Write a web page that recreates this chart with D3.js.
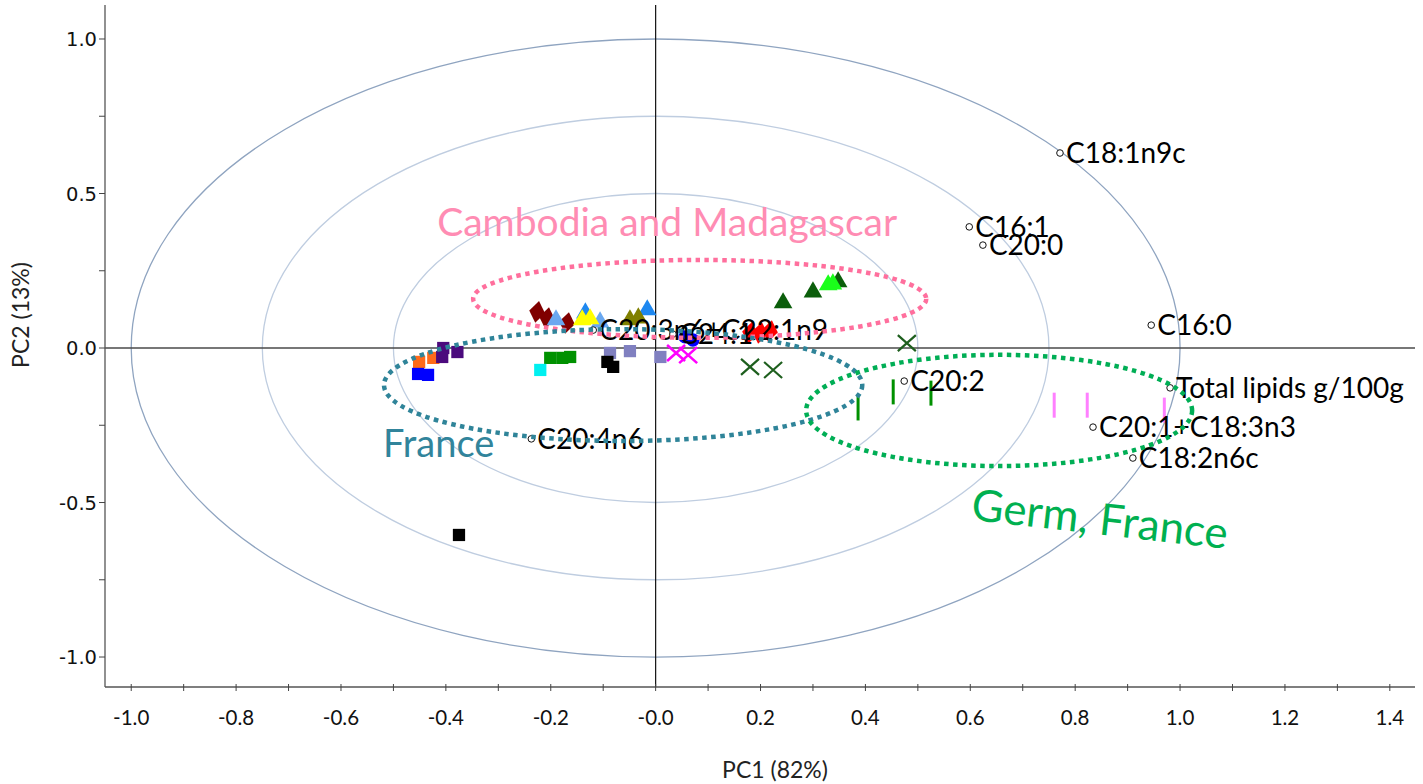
<!DOCTYPE html>
<html><head><meta charset="utf-8">
<script src="https://cdn.jsdelivr.net/npm/d3@7"></script>
<style>body{margin:0;background:#fff} svg{display:block}</style>
</head><body>
<svg id="chart" width="1423" height="784"></svg>
<script>
// ---------- DATA ----------
const xDomain = [-1.05, 1.448];
const yDomain = [-1.097, 1.11];
const xMinorTicks = [-1.0,-0.9,-0.8,-0.7,-0.6,-0.5,-0.4,-0.3,-0.2,-0.1,0,0.1,0.2,0.3,0.4,0.5,0.6,0.7,0.8,0.9,1.0,1.1,1.2,1.3,1.4];
const xLabelTicks = [-1.0,-0.8,-0.6,-0.4,-0.2,0,0.2,0.4,0.6,0.8,1.0,1.2,1.4];
const xTickLabels = ["-1.0","-0.8","-0.6","-0.4","-0.2","-0.0","0.2","0.4","0.6","0.8","1.0","1.2","1.4"];
const yMinorTicks = [-1.0,-0.75,-0.5,-0.25,0,0.25,0.5,0.75,1.0];
const yLabelTicks = [-1.0,-0.5,0,0.5,1.0];
const yTickLabels = ["-1.0","-0.5","0.0","0.5","1.0"];
const xTitle = "PC1 (82%)";
const yTitle = "PC2 (13%)";

const circleRadii = [1.0, 0.75, 0.5];

// loadings (variables)
const loadingNames = ["C18:1n9c","C16:1","C20:0","C16:0","Total lipids g/100g","C20:2","C20:1+C18:3n3","C18:2n6c","C20:4n6","C20:3n6+C22:1n9","C24:1"];
const loadingPC1 = [0.771, 0.598, 0.624, 0.945, 0.981, 0.474, 0.834, 0.910, -0.237, -0.119, 0.033];
const loadingPC2 = [0.631, 0.392, 0.333, 0.074, -0.129, -0.107, -0.256, -0.356, -0.294, 0.058, 0.045];

// scores (samples), [PC1, PC2]
const orangeSquares = [[-0.451,-0.045],[-0.424,-0.032]];
const blueSquares = [[-0.453,-0.084],[-0.434,-0.087]];
const indigoSquares = [[-0.405,0.000],[-0.407,-0.029],[-0.378,-0.013]];
const greenSquares = [[-0.201,-0.032],[-0.178,-0.032],[-0.163,-0.029]];
const cyanSquares = [[-0.220,-0.071]];
const lavenderSquares = [[-0.087,-0.016],[-0.049,-0.010],[0.009,-0.029]];
const blackSquares = [[-0.092,-0.045],[-0.081,-0.061],[-0.375,-0.605]];
const maroonDiamonds = [[-0.226,0.117],[-0.207,0.097],[-0.169,0.081]];
const redDiamonds = [[0.180,0.049],[0.199,0.049],[0.218,0.055]];
const lightBlueTriangles = [[-0.190,0.091],[-0.106,0.084]];
const dodgerTriangles = [[-0.134,0.113],[-0.016,0.123]];
const yellowTriangles = [[-0.140,0.091],[-0.125,0.094]];
const oliveTriangles = [[-0.049,0.091],[-0.033,0.097]];
const darkGreenTriangles = [[0.243,0.146],[0.300,0.181],[0.348,0.214]];
const limeTriangles = [[0.329,0.204],[0.338,0.207]];
const blueCircles = [[0.056,0.036],[0.071,0.026]];
const magentaCrosses = [[0.039,-0.016],[0.062,-0.023]];
const darkGreenCrosses = [[0.180,-0.061],[0.224,-0.071],[0.479,0.016]];
const greenBars = [[0.386,-0.194],[0.453,-0.142],[0.525,-0.146]];
const violetBars = [[0.760,-0.185],[0.823,-0.185],[0.970,-0.201]];

// group annotations: [centerPC1, centerPC2, radiusPC1, radiusPC2]
const groupNames = ["Cambodia and Madagascar","France","Germ, France"];
const groupEllipses = [[0.084,0.159,0.432,0.126],[-0.062,-0.120,0.456,0.181],[0.655,-0.202,0.368,0.180]];
const groupLabelPos = [[0.022,0.362],[-0.520,-0.353],[0.844,-0.603]];

// ---------- CHART ----------
const svg = d3.select("#chart");
svg.append("rect").attr("width",1423).attr("height",784).attr("fill","#fff");
const x = d3.scaleLinear().domain(xDomain).range([105,1415]);
const y = d3.scaleLinear().domain(yDomain).range([687,5]);

// correlation circles
svg.append("g").selectAll("ellipse").data(circleRadii).join("ellipse")
  .attr("cx", x(0)).attr("cy", y(0))
  .attr("rx", r => x(r) - x(0)).attr("ry", r => y(0) - y(r))
  .attr("fill","none")
  .attr("stroke", (r,i) => i===0 ? "#8fa4c0" : "#bfcde0")
  .attr("stroke-width", 1.3);

// zero lines
svg.append("line").attr("x1",x(xDomain[0])).attr("x2",x(xDomain[1])).attr("y1",y(0)).attr("y2",y(0)).attr("stroke","#4a4a4a").attr("stroke-width",1.3);
svg.append("line").attr("x1",x(0)).attr("x2",x(0)).attr("y1",y(yDomain[1])).attr("y2",y(yDomain[0])).attr("stroke","#111").attr("stroke-width",1.2);

// axes
const xAxisG = svg.append("g").attr("transform",`translate(0,${y(yDomain[0])})`);
xAxisG.append("line").attr("x1",x(xDomain[0])).attr("x2",x(xDomain[1])).attr("stroke","#555").attr("stroke-width",1.3);
xAxisG.selectAll(".tk").data(xMinorTicks).join("line").attr("x1",d=>x(d)).attr("x2",d=>x(d)).attr("y1",-3).attr("y2",4).attr("stroke","#444");
xAxisG.selectAll("text").data(xLabelTicks).join("text")
  .attr("x",d=>x(d)).attr("y",38).attr("text-anchor","middle")
  .attr("font-family","Lato, 'Open Sans', sans-serif").attr("font-size",20.5).attr("fill","#111")
  .text((d,i)=>xTickLabels[i]);

const yAxisG = svg.append("g").attr("transform",`translate(${x(xDomain[0])},0)`);
yAxisG.append("line").attr("y1",y(yDomain[1])).attr("y2",y(yDomain[0])).attr("stroke","#555").attr("stroke-width",1.3);
yAxisG.selectAll(".tk").data(yMinorTicks).join("line").attr("y1",d=>y(d)).attr("y2",d=>y(d)).attr("x1",-6).attr("x2",0).attr("stroke","#444");
yAxisG.selectAll("text").data(yLabelTicks).join("text")
  .attr("x",-8).attr("y",d=>y(d)).attr("dy","0.36em").attr("text-anchor","end")
  .attr("font-family","'DejaVu Sans', Verdana, sans-serif").attr("font-size",19.5).attr("fill","#111")
  .text((d,i)=>yTickLabels[i]);

svg.append("text").attr("x",775).attr("y",778).attr("text-anchor","middle")
  .attr("font-family","Lato, sans-serif").attr("font-size",23).attr("fill","#222").text(xTitle);
svg.append("text").attr("transform","translate(29,315) rotate(-90)").attr("text-anchor","middle")
  .attr("font-family","Lato, sans-serif").attr("font-size",23).attr("fill","#222").text(yTitle);

// score markers
const sq = d3.symbol(d3.symbolSquare, 150)();
const tri = d3.symbol(d3.symbolTriangle, 150)();
const circ = d3.symbol(d3.symbolCircle, 140)();
const dia = "M0,-11L8,0L0,11L-8,0Z";
const cross = "M-9,-8L9,8M-9,8L9,-8";
const bar = "M0,-12.5L0,12.5";
const series = [
  {data: orangeSquares, path: sq, fill: "#ff6a1a"},
  {data: blueSquares, path: sq, fill: "#0000ff"},
  {data: indigoSquares, path: sq, fill: "#4b0a7d"},
  {data: greenSquares, path: sq, fill: "#009100"},
  {data: cyanSquares, path: sq, fill: "#00f0f0"},
  {data: lavenderSquares, path: sq, fill: "#8080c0"},
  {data: blackSquares, path: sq, fill: "#000000"},
  {data: maroonDiamonds, path: dia, fill: "#800000", rot: 10},
  {data: redDiamonds, path: dia, fill: "#ff0000", rot: 10},
  {data: dodgerTriangles, path: tri, fill: "#1e88f0"},
  {data: lightBlueTriangles, path: tri, fill: "#6aa8f0"},
  {data: yellowTriangles, path: tri, fill: "#ffff00"},
  {data: oliveTriangles, path: tri, fill: "#808000"},
  {data: darkGreenTriangles, path: tri, fill: "#0b5e0b"},
  {data: limeTriangles, path: tri, fill: "#1aff1a"},
  {data: blueCircles, path: circ, fill: "#0000ff"},
  {data: magentaCrosses, path: cross, stroke: "#ff00ff", sw: 2.6},
  {data: darkGreenCrosses, path: cross, stroke: "#1e5f1e", sw: 2.2},
  {data: greenBars, path: bar, stroke: "#009000", sw: 3},
  {data: violetBars, path: bar, stroke: "#ff80ff", sw: 3}
];
const pts = svg.append("g");
series.forEach(s => {
  pts.append("g").selectAll("path").data(s.data).join("path")
    .attr("d", s.path)
    .attr("transform", d => `translate(${x(d[0])},${y(d[1])})` + (s.rot ? ` rotate(${s.rot})` : ""))
    .attr("fill", s.fill || "none")
    .attr("stroke", s.stroke || "none")
    .attr("stroke-width", s.sw || 0);
});

// loadings
const ld = svg.append("g");
loadingNames.forEach((n,i) => {
  const cx = x(loadingPC1[i]), cy = y(loadingPC2[i]);
  ld.append("circle").attr("cx",cx).attr("cy",cy).attr("r",3.3).attr("fill","#fff").attr("stroke","#111").attr("stroke-width",1);
  ld.append("text").attr("x",cx+6).attr("y",cy).attr("dy","0.36em")
    .attr("font-family","Lato, sans-serif").attr("font-size",28).attr("fill","#000").text(n);
});

// group annotation ellipses
const gColors = ["#ff6f9d","#2f8499","#00ae55"];
const gTextColors = ["#ff8cb3","#31849b","#00b050"];
svg.append("g").selectAll("ellipse").data(groupEllipses).join("ellipse")
  .attr("cx", d=>x(d[0])).attr("cy", d=>y(d[1]))
  .attr("rx", d=>x(d[2])-x(0)).attr("ry", d=>y(0)-y(d[3]))
  .attr("fill","none").attr("stroke",(d,i)=>gColors[i])
  .attr("stroke-width",4.5).attr("stroke-dasharray","4.5 4.5");

const gSizes = [39, 38, 44];
const gAnchors = ["middle","start","middle"];
const gRot = [0, 0, 6.5];
groupNames.forEach((n,i) => {
  const px = x(groupLabelPos[i][0]), py = y(groupLabelPos[i][1]);
  svg.append("text").attr("transform",`translate(${px},${py}) rotate(${gRot[i]})`)
    .attr("text-anchor",gAnchors[i])
    .attr("font-family","Lato, sans-serif").attr("font-size",gSizes[i]).attr("fill",gTextColors[i]).text(n);
});
</script>
</body></html>
